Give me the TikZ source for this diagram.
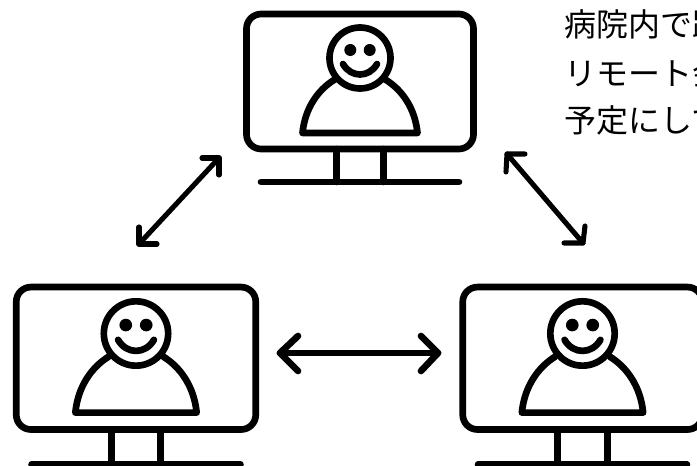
\documentclass[tikz,border=0pt]{standalone}
\usepackage{fontspec}
\newfontfamily\cjk{Noto Sans CJK JP}

\tikzset{
        outline/.style = {draw=black, line width=5pt, line cap=round, line join=round},
        link/.style = {draw=black, line width=3.8pt, line cap=round, line join=round},
        wide link/.style = {link, line width=5pt},
        note/.style = {anchor=west, inner sep=0pt, font=\cjk\fontsize{24pt}{28pt}\selectfont},
        monitor/.pic = {
            \draw[outline,rounded corners=11pt] (-113.5,-44) rectangle (113.5,91);
            \draw[outline] (-99,124) -- (99,124);
            \draw[outline] (-23.5,91) -- (-23.5,124);
            \draw[outline] (23.5,91) -- (23.5,124);
            \draw[outline] (0,0) circle [radius=30.5];
            \fill (-9.7,-8) circle [radius=6];
            \fill (9.7,-8) circle [radius=6];
            \draw[outline] (-17,6) .. controls (-9,20) and (9,20) .. (17,6);
            \draw[outline] (-26,22) .. controls (-42,32) and (-55,50) .. (-57.5,75) -- (57.5,75) .. controls (55,50) and (42,32) .. (26,22);
        }
    }

\begin{document}
\begin{tikzpicture}[x=0.75pt,y=-0.75pt]
            \useasboundingbox (0,0) rectangle (697,466);
            \clip (0,0) rectangle (697,466);

            \pic (top) at (360,58) {monitor};
            \pic[scale=1.055] (left) at (136,333.5) {monitor};
            \pic[scale=1.055] (right) at (582.5,333.5) {monitor};

            \node[note] (line1) at (564,24) {病院内で距};
            \node[note] (line2) at (564,73) {リモート会};
            \node[note] (line3) at (564,120) {予定にして};

            % left arrow
            \coordinate (ltop) at (219,158);
            \coordinate (ltopa) at (202,158);
            \coordinate (ltopb) at (219,175);
            \coordinate (lbot) at (139,244);
            \coordinate (lbota) at (139,227);
            \coordinate (lbotb) at (157,244);
            \draw[link] (lbot) -- (ltop);
            \draw[link] (ltopa) -- (ltop) -- (ltopb);
            \draw[link] (lbota) -- (lbot) -- (lbotb);

            % right arrow
            \coordinate (rtop) at (507,154);
            \coordinate (rtopa) at (525,154);
            \coordinate (rtopb) at (506,172);
            \coordinate (rbot) at (583,243);
            \coordinate (rbota) at (564,243);
            \coordinate (rbotb) at (585,226);
            \draw[link] (rtop) -- (rbot);
            \draw[link] (rtopa) -- (rtop) -- (rtopb);
            \draw[link] (rbota) -- (rbot) -- (rbotb);

            % bottom arrow
            \coordinate (hleft) at (280,353);
            \coordinate (hlefta) at (298,336);
            \coordinate (hleftb) at (298,371);
            \coordinate (hright) at (438,353);
            \coordinate (hrighta) at (421,336);
            \coordinate (hrightb) at (421,371);
            \draw[wide link] (hleft) -- (hright);
            \draw[wide link] (hlefta) -- (hleft) -- (hleftb);
            \draw[wide link] (hrighta) -- (hright) -- (hrightb);
\end{tikzpicture}
\end{document}
